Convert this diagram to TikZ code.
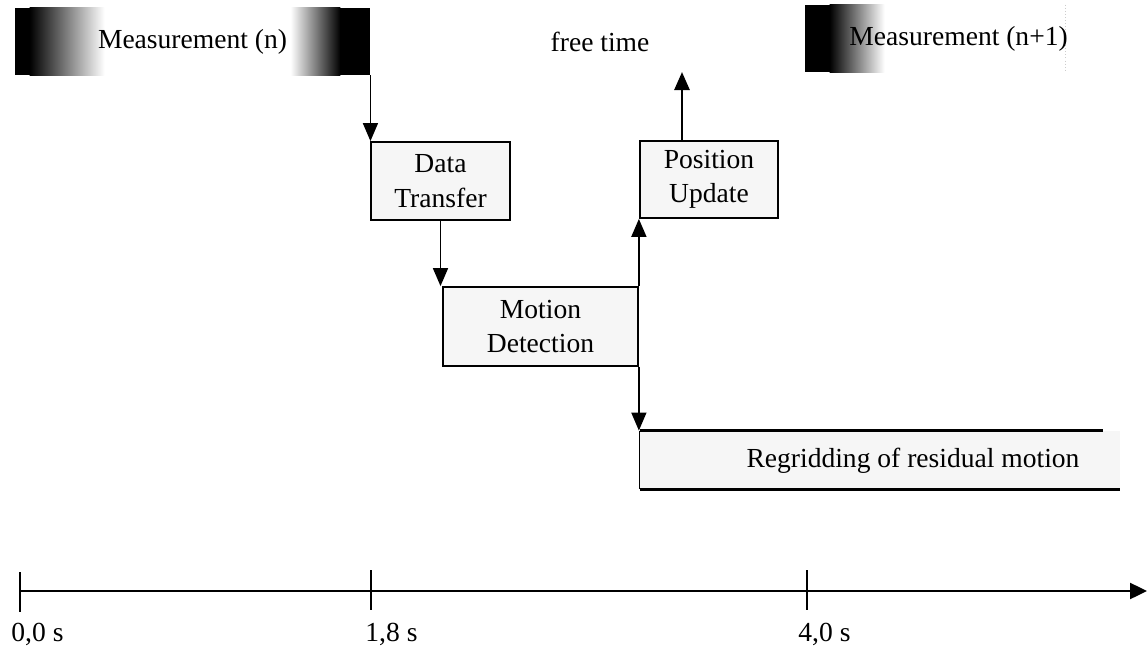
\documentclass[tikz,border=0pt]{standalone}
\usepackage{fontspec}
\setmainfont{Liberation Serif}
\usetikzlibrary{arrows.meta,backgrounds}
\def\u{0.45pt}
\tikzset{
  every node/.style={font=\fontsize{12.4}{15.4}\selectfont, inner sep=0pt},
  box/.style={draw, line width=0.8pt, fill=gray!7, align=center},
  conn/.style={line width=0.7pt, -{Triangle[width=15*\u,length=18*\u]}},
  thickconn/.style={line width=1.2pt, -{Triangle[width=15*\u,length=18*\u]}},
  meas/.style={minimum height=67*\u},
  lbl/.style={anchor=west}
}
\begin{document}
\begin{tikzpicture}[x=\u, y=-\u]
\useasboundingbox (0,0) rectangle (1147,647);
% measurement blocks
\node[meas, minimum width=355*\u] (m1) at (192.5,41.5) {Measurement (n)};
\node[meas, minimum width=285*\u] (m2) at (947.5,38.5) {\hspace*{10pt}Measurement (n+1)};
\node (ft) at (600,42) {free time};
\begin{scope}[on background layer]
  \fill[black] (m1.north west) rectangle ([xshift=15*\u]m1.south west);
  \shade[left color=black, right color=white] ([xshift=15*\u]m1.north west) rectangle ([xshift=90*\u]m1.south west);
  \shade[left color=white, right color=black] ([xshift=-80*\u]m1.north east) rectangle ([xshift=-30*\u]m1.south east);
  \fill[black] ([xshift=-30*\u]m1.north east) rectangle (m1.south east);
  \fill[black] (m2.north west) rectangle ([xshift=25*\u]m2.south west);
  \shade[left color=black, right color=white] ([xshift=25*\u]m2.north west) rectangle ([xshift=80*\u]m2.south west);
  \draw[gray!40, densely dotted] ([xshift=-25*\u]m2.north east) -- ([xshift=-25*\u]m2.south east);
\end{scope}
% process boxes
\node[box, minimum width=139*\u, minimum height=78*\u] (dt) at (440.5,181) {Data\\Transfer};
\node[box, minimum width=195*\u, minimum height=79*\u] (md) at (540.5,326.5) {Motion\\Detection};
\node[box, minimum width=138*\u, minimum height=77*\u] (pu) at (709,179.5) {Position\\Update};
% regridding (open on the right)
\node[minimum width=480*\u, minimum height=58*\u] (rg) at (880,460) {};
\fill[gray!7] (rg.north west) rectangle (rg.south east);
\draw[line width=1.2pt] (rg.north west) -- ([xshift=-17*\u]rg.north east);
\draw[line width=1.2pt] (rg.south west) -- (rg.south east);
\draw[line width=0.4pt] (rg.north west) -- (rg.south west);
\node at (913,461) {Regridding of residual motion};
% connectors
\coordinate (top) at (682,72);
\draw[conn] (m1.south east) -- (m1.south east |- dt.north);
\draw[conn] (dt.south) -- (dt.south |- md.north);
\draw[conn] (md.north east) -- (md.north east |- pu.south);
\draw[thickconn] (pu.north -| top) -- (top);
\draw[conn] (md.south east) -- (md.south east |- rg.north);
% time axis
\coordinate (t0) at (20,591);
\coordinate (tm) at (440,591);
\coordinate (tend) at (1147,591);
\draw[line width=0.5pt] (t0) -- (tm);
\draw[line width=1.1pt, -{Triangle[width=16*\u,length=17*\u]}] (tm) -- (tend);
\coordinate (k0) at (20,572);
\coordinate (k1) at (371,570);
\coordinate (k2) at (807,570);
\draw[line width=0.7pt] (k0) -- ++(0,40);
\draw[line width=0.7pt] (k1) -- ++(0,40);
\draw[line width=0.7pt] (k2) -- ++(0,40);
\node[lbl] (l0) at (11,634) {0,0 s};
\node[lbl] (l1) at (365,634) {1,8 s};
\node[lbl] (l2) at (798,634) {4,0 s};
\end{tikzpicture}
\end{document}
